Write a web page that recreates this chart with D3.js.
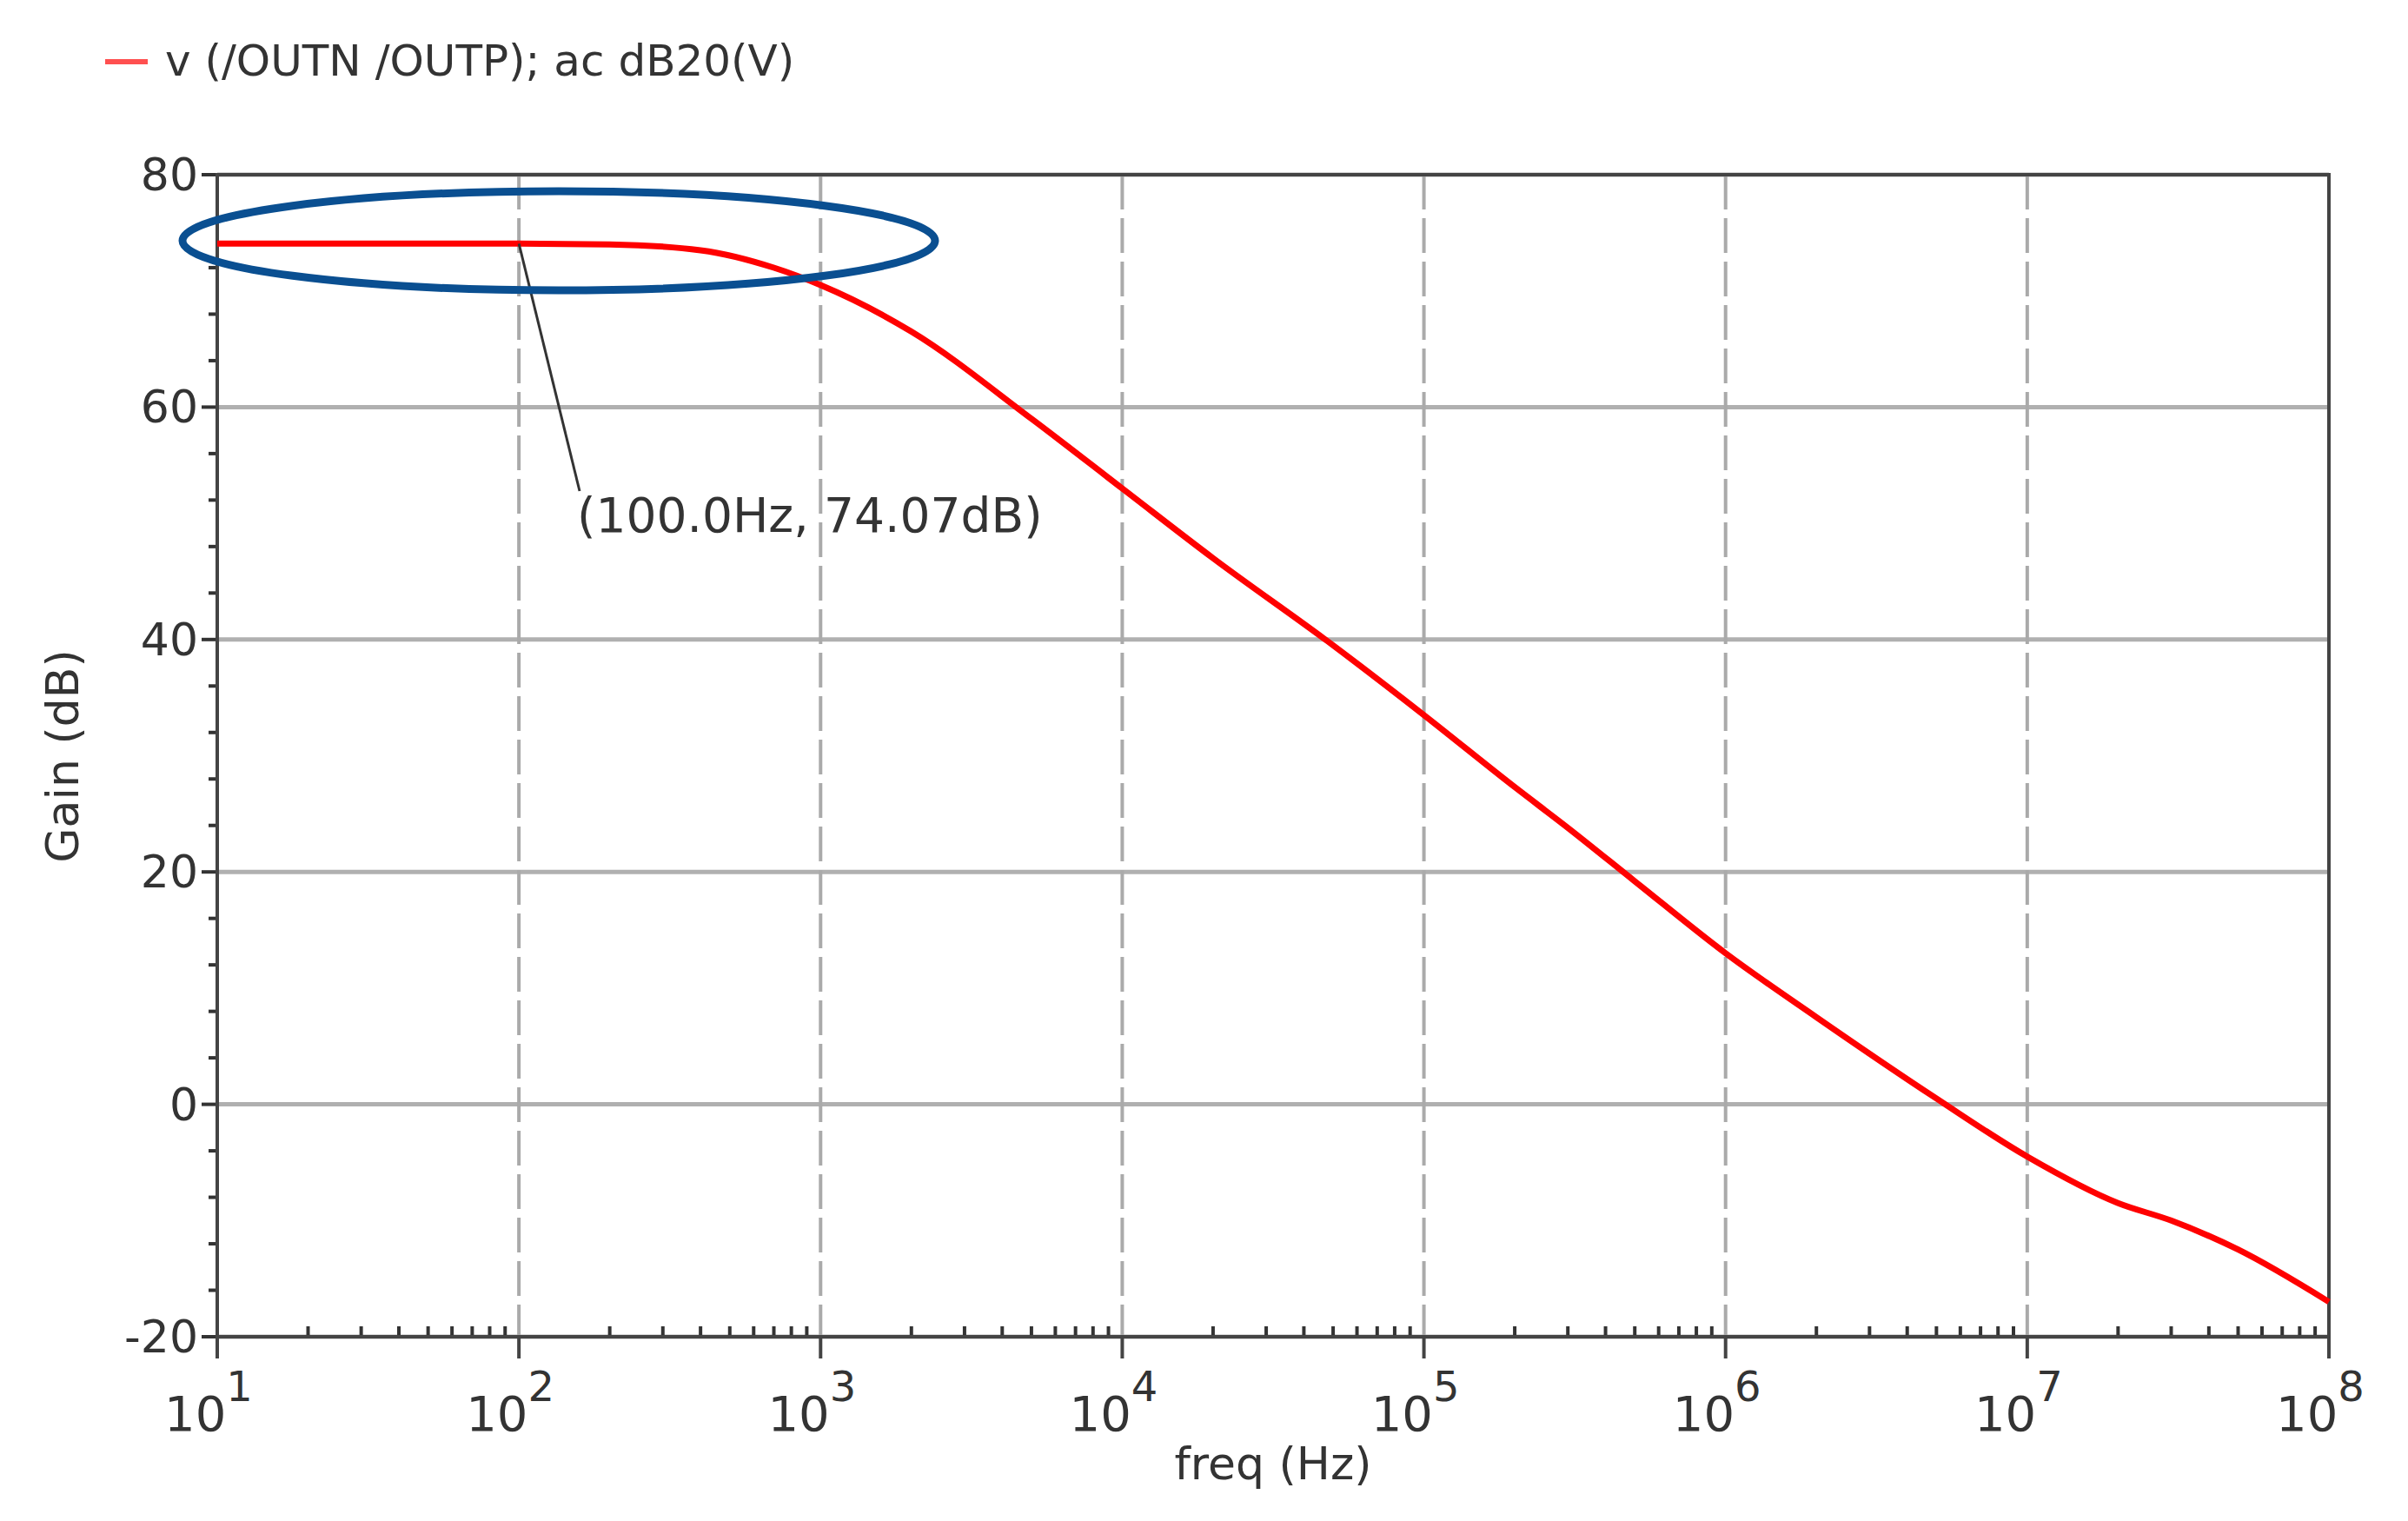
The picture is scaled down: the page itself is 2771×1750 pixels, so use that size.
<!DOCTYPE html>
<html><head><meta charset="utf-8">
<script src="https://d3js.org/d3.v7.min.js"></script>
<style>body{margin:0;background:#fff}</style></head>
<body><svg id="c" width="2771" height="1750"></svg>
<script>
const freqs = [10,100,200,400,700,1000,2000,5000,1e4,2e4,5e4,1e5,2e5,3e5,5e5,1e6,2e6,5e6,1e7,2e7,3e7,5e7,1e8];
const gains = [74.07,74.07,74,73.5,72,70.5,66.5,59,53,47,39.5,33.5,27.3,23.8,19.2,13,7.5,0.5,-4.5,-8.5,-10,-12.5,-17];
const yTicks = [-20,0,20,40,60,80];
const xExps = [1,2,3,4,5,6,7,8];
const legendLabel = "v (/OUTN /OUTP); ac dB20(V)";
const markerLabel = "(100.0Hz, 74.07dB)";

const svg = d3.select("#c");
const L=250,R=2680,T=201,B=1538;
const x = d3.scaleLog().domain([10,1e8]).range([L,R]);
const y = d3.scaleLinear().domain([-20,80]).range([B,T]);
const font = "DejaVu Sans, sans-serif";

svg.selectAll(".hg").data(yTicks).join("line").attr("x1",L).attr("x2",R)
 .attr("y1",d=>y(d)).attr("y2",d=>y(d)).attr("stroke","#b0b0b0").attr("stroke-width",5);
svg.selectAll(".vg").data(xExps).join("line").attr("y1",T).attr("y2",B)
 .attr("x1",d=>x(10**d)).attr("x2",d=>x(10**d)).attr("stroke","#aaa").attr("stroke-width",4)
 .attr("stroke-dasharray","40,10");

const minors=[];
for(let e=1;e<8;e++) for(let k=2;k<10;k++) minors.push(k*10**e);
svg.selectAll(".mx").data(minors).join("line").attr("x1",d=>x(d)).attr("x2",d=>x(d))
 .attr("y1",B).attr("y2",B-12).attr("stroke","#333").attr("stroke-width",4);
svg.selectAll(".Mx").data(xExps).join("line").attr("x1",d=>x(10**d)).attr("x2",d=>x(10**d))
 .attr("y1",B).attr("y2",B+25).attr("stroke","#444").attr("stroke-width",4);
const ym=d3.range(-20,81,4).filter(v=>v%20!==0);
svg.selectAll(".my").data(ym).join("line").attr("x1",L).attr("x2",L-10)
 .attr("y1",d=>y(d)).attr("y2",d=>y(d)).attr("stroke","#333").attr("stroke-width",4);
svg.selectAll(".My").data(yTicks).join("line").attr("x1",L).attr("x2",L-18)
 .attr("y1",d=>y(d)).attr("y2",d=>y(d)).attr("stroke","#333").attr("stroke-width",4);

svg.append("rect").attr("x",L).attr("y",T).attr("width",R-L).attr("height",B-T)
 .attr("fill","none").attr("stroke","#444").attr("stroke-width",4);

svg.selectAll(".yl").data(yTicks).join("text").attr("x",L-22).attr("y",d=>y(d)+18)
 .attr("text-anchor","end").attr("font-family",font).attr("font-size",52).attr("fill","#333").text(d=>d);
const xl=svg.selectAll(".xl").data(xExps).join("text").attr("x",d=>x(10**d)-10).attr("y",B+108)
 .attr("text-anchor","middle").attr("font-family",font).attr("font-size",56).attr("fill","#333");
xl.append("tspan").text("10");
xl.append("tspan").attr("dy",-34).attr("font-size",48).text(d=>d);

svg.append("text").attr("x",1465).attr("y",1702).attr("text-anchor","middle")
 .attr("font-family",font).attr("font-size",52).attr("fill","#333").text("freq (Hz)");
svg.append("text").attr("transform","translate(90,870) rotate(-90)").attr("text-anchor","middle")
 .attr("font-family",font).attr("font-size",52).attr("fill","#333").text("Gain (dB)");

svg.append("path").datum(freqs.map((f,i)=>[f,gains[i]]))
 .attr("d",d3.line().x(d=>x(d[0])).y(d=>y(d[1])).curve(d3.curveMonotoneX))
 .attr("fill","none").attr("stroke","#ff0000").attr("stroke-width",7);

svg.append("line").attr("x1",x(100)).attr("y1",y(74.07)).attr("x2",667).attr("y2",565)
 .attr("stroke","#333").attr("stroke-width",3);
svg.append("text").attr("x",664).attr("y",612).attr("font-family",font).attr("font-size",55)
 .attr("fill","#333").text(markerLabel);

svg.append("ellipse").attr("cx",643).attr("cy",277).attr("rx",433).attr("ry",57)
 .attr("fill","none").attr("stroke","#0a4f91").attr("stroke-width",9);

svg.append("line").attr("x1",121).attr("x2",170).attr("y1",71).attr("y2",71)
 .attr("stroke","#ff5050").attr("stroke-width",6);
svg.append("text").attr("x",190).attr("y",87).attr("font-family",font).attr("font-size",50)
 .attr("fill","#333").text(legendLabel);
</script></body></html>
